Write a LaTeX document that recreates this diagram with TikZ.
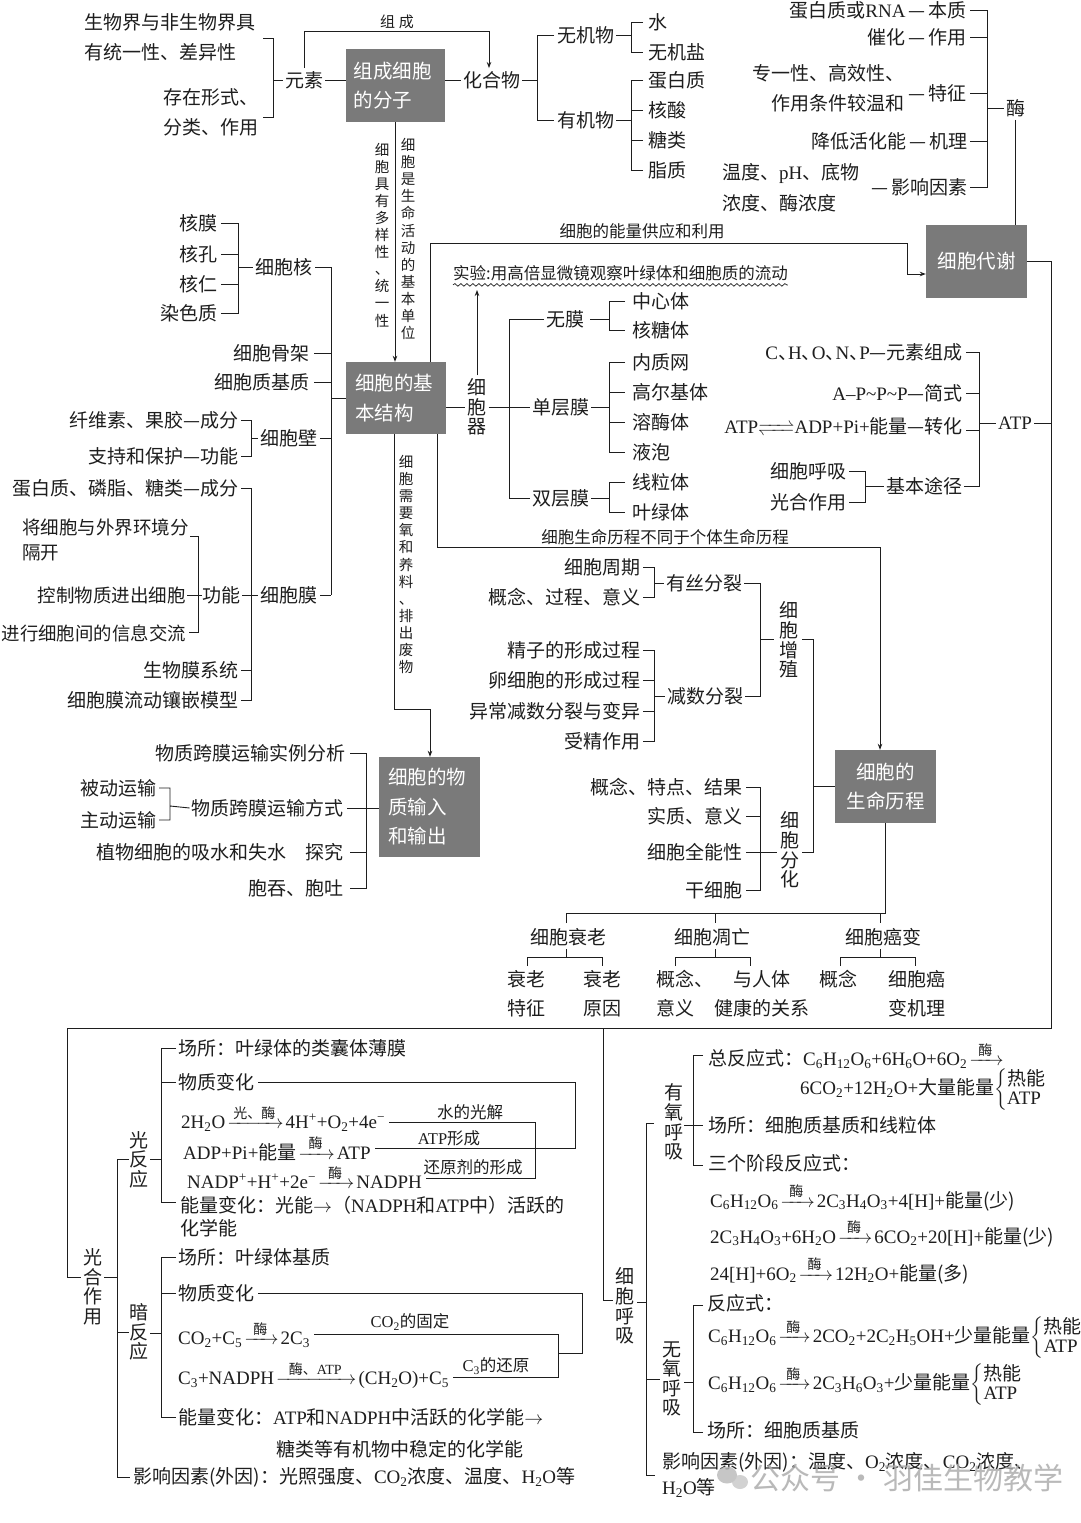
\RequirePackage{fix-cm}
\documentclass[tikz,border=0pt]{standalone}
\usepackage{fontspec}
\usepackage{mathtools}
\setmainfont{Noto Sans CJK SC}
\newfontfamily\tmr{Liberation Serif}
\usetikzlibrary{arrows.meta,decorations.pathmorphing}
\newcommand\F[1]{{\tmr #1}}
\newcommand\dn[1]{\textsubscript{#1}}
\newcommand\upx[1]{\textsuperscript{#1}}
\newcommand\rx[2]{\kern2pt$\xrightarrow{\makebox[#1pt]{\fontsize{14}{14}\selectfont #2}}$\kern2pt}
\newcommand\brc[1]{{\renewcommand\arraystretch{0.85}$\left\{\begin{tabular}{@{}l@{}}#1\end{tabular}\right.$}}
\newcommand\dnh{\makebox[10pt][l]{、}}
\definecolor{txt}{RGB}{30,30,30}
\definecolor{boxg}{RGB}{122,122,122}
\tikzset{
 every node/.style={inner sep=0pt, text=txt, font=\fontsize{19}{22}\selectfont},
 tl/.style={anchor=west},
 tr/.style={anchor=east},
 sm/.style={font=\fontsize{15}{17}\selectfont},
 lab/.style={font=\fontsize{16.5}{18}\selectfont},
 vt/.style={align=center, font=\fontsize{19}{19.6}\selectfont},
 vs/.style={align=center, font=\fontsize{14.5}{17.1}\selectfont},
 two/.style={font=\fontsize{19}{29}\selectfont},
 box/.style={fill=boxg, text=white, font=\fontsize{19.5}{29.5}\selectfont},
 ln/.style={line width=0.9pt, draw=txt},
 arr/.style={ln, -{Stealth[length=6pt,width=4.5pt]}},
}
\begin{document}
\begin{tikzpicture}[x=1pt,y=-1pt]
\useasboundingbox (0,0) rectangle (1080,1523);
\fill[white] (0,0) rectangle (1080,1523);

% ---------- boxes
\node[box, minimum width=99pt, minimum height=73pt, text width=84pt, align=left] (b1) at (395.5,85.5) {组成细胞\\的分子};
\node[box, minimum width=100pt, minimum height=72pt, text width=82pt, align=left] (b2) at (396,398) {细胞的基\\本结构};
\node[box, minimum width=101pt, minimum height=73pt] (b3) at (976.5,261.5) {细胞代谢};
\node[box, minimum width=101pt, minimum height=100pt, text width=83pt, align=left] (b4) at (429.5,807) {细胞的物\\质输入\\和输出};
\node[box, minimum width=101pt, minimum height=73pt, align=center] (b5) at (885.5,786.5) {细胞的\\生命历程};

% ---------- top left: elements
\node[tl] (n1) at (84,22) {生物界与非生物界具};
\node[tl] (n2) at (84,52) {有统一性、差异性};
\node[tl] (n3) at (163,97) {存在形式、};
\node[tl] (n4) at (163,127) {分类、作用};
\draw[ln] (263,38) -- (273,38) -- (273,117) -- (263,117);
\node[tl] (ys) at (285,80) {元素};
\draw[ln] (273,80) -- ([xshift=-2pt]ys.west);
\draw[ln] ([xshift=2pt]ys.east) -- (ys.east -| b1.west);
\node[tl] (hh) at (463,80) {化合物};
\draw[ln] (b1.east |- hh.west) -- ([xshift=-2pt]hh.west);
\coordinate (zc) at (489,31);
\draw[arr, shorten >=3pt] ([yshift=3pt]ys.north) |- (zc) -- (zc |- hh.north);
\node[sm] (zcl) at (397,22) {组\hspace{4pt}成};

% compounds
\draw[ln] ([xshift=2pt]hh.east) -- (537,80);
\draw[ln] (554,35) -- (537,35) -- (537,120) -- (554,120);
\node[tl] (wj) at (557,35) {无机物};
\node[tl] (yj) at (557,120) {有机物};
\draw[ln] ([xshift=2pt]wj.east) -- (631,35);
\draw[ln] (643,22) -- (631,22) -- (631,52) -- (643,52);
\node[tl] (s1) at (648,22) {水};
\node[tl] (s2) at (648,52) {无机盐};
\draw[ln] ([xshift=2pt]yj.east) -- (631,120);
\draw[ln] (643,80) -- (631,80) -- (631,170) -- (643,170) (631,110) -- (643,110) (631,140) -- (643,140);
\node[tl] (o1) at (648,80) {蛋白质};
\node[tl] (o2) at (648,110) {核酸};
\node[tl] (o3) at (648,140) {糖类};
\node[tl] (o4) at (648,170) {脂质};

% enzyme
\node[tr] (m1) at (967,10) {蛋白质或\F{RNA}\,—\,本质};
\node[tr] (m2) at (967,37) {催化\,—\,作用};
\node[tl] (m3a) at (752,73) {专一性、高效性、};
\node[tr] (m3b) at (905,103) {作用条件较温和};
\node[tr] (m3c) at (967,93) {—\,特征};
\node[tr] (m4) at (968,141) {降低活化能\,—\,机理};
\node[tl] (m5a) at (722,173) {温度、\F{pH}、底物};
\node[tl] (m5b) at (722,203) {浓度、酶浓度};
\node[tr] (m5c) at (968,187) {—\,影响因素};
\draw[ln] (970,10) -- (987,10) -- (987,187) -- (970,187) (970,37) -- (987,37) (970,93) -- (987,93) (970,141) -- (987,141);
\node[tl] (mei) at (1006,108) {酶};
\draw[ln] (987,108) -- ([xshift=-2pt]mei.west);
\draw[ln] ([yshift=-3pt]mei.south) -- (mei.south |- b3.north);

% metabolism long line
\draw[ln] (b3.east) -| (1051,1028) -- (67,1028) -- (67,1277) -- (81,1277);
\draw[ln] (603,1028) -- (603,1300) -- (613,1300);

% b1 -> b2
\coordinate (g1) at (395,0);
\draw[arr] (g1 |- b1.south) -- (g1 |- b2.north);
\node[vs] (v1) at (382,235) {细\\胞\\具\\有\\多\\样\\性\\、\\统\\一\\性};
\node[vs] (v2) at (408,239) {细\\胞\\是\\生\\命\\活\\动\\的\\基\\本\\单\\位};

% b2 -> b3
\coordinate (e1) at (430,243);
\coordinate (e2) at (907,243);
\coordinate (e3) at (907,274);
\draw[arr] (e1 |- b2.north) -- (e1) -- (e2) -- (e3) -- (e3 -| b3.west);
\node[lab] (el) at (642,231) {细胞的能量供应和利用};

% b2 -> b4
\coordinate (f1) at (394,709);
\coordinate (f2) at (430,709);
\draw[arr] (f1 |- b2.south) -- (f1) -- (f2) -- (f2 |- b4.north);
\node[vs] (v3) at (406,564.5) {细\\胞\\需\\要\\氧\\和\\养\\料\\、\\排\\出\\废\\物};

% b2 -> b5
\coordinate (h1) at (437,547);
\coordinate (h2) at (880,547);
\draw[arr] (h1 |- b2.south) -- (h1) -- (h2) -- (h2 |- b5.north);
\node[lab] (hl) at (665,537) {细胞生命历程不同于个体生命历程};

% ---------- left of b2
\node[tr] (hm) at (218,223) {核膜};
\node[tr] (hk) at (218,254) {核孔};
\node[tr] (hr) at (218,284) {核仁};
\node[tr] (rs) at (218,313) {染色质};
\draw[ln] (221,223) -- (238,223) -- (238,313) -- (221,313) (221,254) -- (238,254) (221,284) -- (238,284) (238,267) -- (253,267);
\node[tl] (xbh) at (255,267) {细胞核};
\draw[ln] ([xshift=3pt]xbh.east) -- (331,267) -- (331,595);
\node[tr] (gj) at (310,353) {细胞骨架};
\node[tr] (jz) at (310,382) {细胞质基质};
\draw[ln] (314,353) -- (331,353) (314,382) -- (331,382);
\node[tl] (xbb) at (260,438) {细胞壁};
\node[tl] (xbm) at (260,595) {细胞膜};
\draw[ln] ([xshift=3pt]xbb.east) -- (331,438) ([xshift=3pt]xbm.east) -- (331,595);
\draw[ln] (331,398) -- (b2.west);
\node[tr] (c1) at (239,420) {纤维素、果胶—成分};
\node[tr] (c2) at (239,456) {支持和保护—功能};
\draw[ln] (241,420) -- (251,420) -- (251,456) -- (241,456) (251,438) -- ([xshift=-2pt]xbb.west);
\node[tr] (c3) at (239,488) {蛋白质、磷脂、糖类—成分};
\node[tr] (gn) at (241,595) {功能};
\node[tr] (c5) at (239,670) {生物膜系统};
\node[tr] (c6) at (239,700) {细胞膜流动镶嵌模型};
\draw[ln] (241,488) -- (251,488) -- (251,700) -- (241,700) (241,670) -- (251,670);
\draw[ln] ([xshift=1pt]gn.east) -- ([xshift=-2pt]xbm.west);
\node[tl, align=left, font=\fontsize{18.5}{25}\selectfont] (d1) at (22,539.5) {将细胞与外界环境分\\隔开};
\node[tr, font=\fontsize{18.5}{22}\selectfont] (d2) at (186,595) {控制物质进出细胞};
\node[tr, font=\fontsize{18.4}{22}\selectfont] (d3) at (186,633) {进行细胞间的信息交流};
\draw[ln] (190,536) -- (198,536) -- (198,632) -- (189,632);
\draw[ln] ([xshift=1pt]d2.east) -- ([xshift=-1pt]gn.west);

% organelles
\node[vt] (xbq) at (477,407) {细\\胞\\器};
\draw[ln] (b2.east |- xbq.west) -- ([xshift=-2pt]xbq.west);
\node[lab, anchor=west] (sy) at (453,273) {实验:用高倍显微镜观察叶绿体和细胞质的流动};
\draw[decorate, decoration={snake, amplitude=1.3pt, segment length=6pt}, line width=0.7pt, draw=txt] ([yshift=-4pt]sy.south west) -- ([yshift=-4pt]sy.south east);
\draw[arr] ([yshift=3pt]xbq.north) -- (xbq.north |- 0,290);
\node[tl] (wm) at (546,319) {无膜};
\node[tl] (dcm) at (532,407) {单层膜};
\node[tl] (scm) at (532,498) {双层膜};
\draw[ln] ([xshift=2pt]xbq.east) -- ([xshift=-2pt]dcm.west);
\draw[ln] ([xshift=-2pt]wm.west) -| (509,498) -- ([xshift=-2pt]scm.west);
\draw[ln] (590,319) -- (609,319) (625,301) -- (609,301) -- (609,330) -- (625,330);
\node[tl] (o5) at (632,301) {中心体};
\node[tl] (o6) at (632,330) {核糖体};
\draw[ln] ([xshift=2pt]dcm.east) -- (609,407) (625,362) -- (609,362) -- (609,452) -- (625,452) (609,392) -- (625,392) (609,422) -- (625,422);
\node[tl] (o7) at (632,362) {内质网};
\node[tl] (o8) at (632,392) {高尔基体};
\node[tl] (o9) at (632,422) {溶酶体};
\node[tl] (o10) at (632,452) {液泡};
\draw[ln] ([xshift=2pt]scm.east) -- (609,498) (625,482) -- (609,482) -- (609,512) -- (625,512);
\node[tl] (o11) at (632,482) {线粒体};
\node[tl] (o12) at (632,512) {叶绿体};

% ATP
\node[tr] (a1) at (963,352) {\F{C}\dnh\F{H}\dnh\F{O}\dnh\F{N}\dnh\F{P}—元素组成};
\node[tr] (a2) at (963,393) {\F{A–P\textasciitilde P\textasciitilde P}—简式};
\node[tr] (a3) at (963,430) {\F{ATP}$\xrightleftharpoons{\hspace{26pt}}$\F{ADP+Pi+}能量—转化};
\node[tl] (a4a) at (770,471) {细胞呼吸};
\node[tl] (a4b) at (770,502) {光合作用};
\node[tl] (a4) at (886,486) {基本途径};
\draw[ln] (849,471) -- (865,471) -- (865,502) -- (849,502) (865,486) -- ([xshift=-2pt]a4.west);
\node[tl] (atp) at (998,423) {\F{ATP}};
\draw[ln] (966,352) -- (979,352) -- (979,486) -- ([xshift=2pt]a4.east) (966,393) -- (979,393) (966,430) -- (979,430) (979,423) -- ([xshift=-2pt]atp.west);
\draw[ln] ([xshift=2pt]atp.east) -- (1051,423);

% ---------- life history
\node[tr] (q1) at (641,567) {细胞周期};
\node[tr] (q2) at (641,597) {概念、过程、意义};
\node[tl] (ys2) at (666,583) {有丝分裂};
\draw[ln] (643,567) -- (654,567) -- (654,597) -- (643,597) (654,583) -- ([xshift=-2pt]ys2.west);
\node[tr] (q3) at (641,650) {精子的形成过程};
\node[tr] (q4) at (641,680) {卵细胞的形成过程};
\node[tr] (q5) at (641,711) {异常减数分裂与变异};
\node[tr] (q6) at (641,741) {受精作用};
\node[tl] (js) at (667,696) {减数分裂};
\draw[ln] (643,650) -- (654,650) -- (654,741) -- (643,741) (643,680) -- (654,680) (643,711) -- (654,711) (654,696) -- ([xshift=-2pt]js.west);
\draw[ln] ([xshift=2pt]ys2.east) -- (760,583) -- (760,696) -- ([xshift=2pt]js.east) (760,639) -- (774,639);
\node[vt] (zz) at (789,640) {细\\胞\\增\\殖};
\node[vt] (fh) at (790,850) {细\\胞\\分\\化};
\draw[ln] (802,639) -- (813,639) -- (813,852) -- (802,852) (813,786.5) -- (b5.west);
\node[tr] (k1) at (743,787) {概念、特点、结果};
\node[tr] (k2) at (743,816) {实质、意义};
\node[tr] (k3) at (743,852) {细胞全能性};
\node[tr] (k4) at (743,890) {干细胞};
\draw[ln] (746,787) -- (760,787) -- (760,890) -- (746,890) (746,816) -- (760,816) (746,852) -- (777,852);

\draw[ln] (b5.south) -- (b5.south |- 0,913);
\draw[ln] (566,923) -- (566,913) -- (885.5,913) (715,913) -- (715,923) (880,913) -- (880,923);
\node (sl) at (568,937) {细胞衰老};
\node (dw) at (712,937) {细胞凋亡};
\node (ab) at (883,937) {细胞癌变};
\draw[ln] (566,949) -- (566,957) (527,966) -- (527,957) -- (602,957) -- (602,966);
\node[two, align=center] (sl1) at (526,993.5) {衰老\\特征};
\node[two, align=center] (sl2) at (602,993.5) {衰老\\原因};
\draw[ln] (715,949) -- (715,957) (675,966) -- (675,957) -- (750,957) -- (750,966);
\node[two, align=left, anchor=west] (dw1) at (656,993.5) {概念、\\意义};
\node[two, align=center] (dw2) at (762,993.5) {与人体\\健康的关系};
\draw[ln] (880,949) -- (880,957) (840,966) -- (840,957) -- (915,957) -- (915,966);
\node (ab1) at (838,979) {概念};
\node[two, align=center] (ab2) at (917,993.5) {细胞癌\\变机理};

% ---------- transport
\node[tr] (w1) at (346,753) {物质跨膜运输实例分析};
\node[tr] (w2) at (344,808) {物质跨膜运输方式};
\node[tr] (w3) at (344,852) {植物细胞的吸水和失水\hspace{1em}探究};
\node[tr] (w4) at (344,888) {胞吞、胞吐};
\draw[ln] (350,753) -- (366,753) -- (366,888) -- (350,888) (350,852) -- (366,852) ([xshift=3pt]w2.east) -- (b4.west |- w2.east);
\node[tr] (p5) at (157,788) {被动运输};
\node[tr] (p6) at (157,820) {主动运输};
\draw[ln] (159,788) -- (170,788) -- (170,820) -- (159,820) (170,806) -- ([xshift=-2pt]w2.west);

% ---------- photosynthesis
\node[vt] (gh) at (93,1287) {光\\合\\作\\用};
\draw[ln] (104,1277) -- (117,1277);
\node[vt] (gf) at (139,1159.5) {光\\反\\应};
\node[vt] (af) at (139,1332) {暗\\反\\应};
\draw[ln] (129,1159) -- (117,1159) -- (117,1477) -- (130,1477) (117,1332) -- (129,1332);
\draw[ln] (150,1159) -- (161,1159) (176,1048) -- (161,1048) -- (161,1202) -- (176,1202) (161,1082) -- (176,1082);
\node[tl] (g1) at (178,1048) {场所：叶绿体的类囊体薄膜};
\node[tl] (g2) at (178,1082) {物质变化};
\node[tl] (p1) at (181,1118) {\F{2H\dn2O}\rx{46}{光、酶}\F{4H\upx{+}+O\dn2+4e\upx{−}}};
\node[tl] (p2) at (183,1148) {\F{ADP+Pi+}能量\rx{26}{酶}\F{ATP}};
\node[tl] (p3) at (187,1177) {\F{NADP\upx{+}+H\upx{+}+2e\upx{−}}\rx{26}{酶}\F{NADPH}};
\node[tl] (g3) at (180,1205) {能量变化：光能$\rightarrow$（\F{NADPH}和\F{ATP}中）活跃的};
\node[tl] (g4) at (180,1228) {化学能};
\draw[ln, shorten <=4pt, shorten >=4pt] (g2.east) -- (575,1082) -- (575,1148) -- (p2.east |- 0,1148);
\draw[ln, shorten <=4pt, shorten >=4pt] (p1.east |- 0,1122) -- (535,1122) -- (535,1178) -- (p3.east |- 0,1178);
\node[lab] (l1) at (470,1112) {水的光解};
\node[lab] (l2) at (449,1138) {\F{ATP}形成};
\node[lab] (l3) at (473,1167) {还原剂的形成};

\draw[ln] (150,1333) -- (161,1333) (176,1257) -- (161,1257) -- (161,1417) -- (176,1417) (161,1293) -- (176,1293);
\node[tl] (i1) at (178,1257) {场所：叶绿体基质};
\node[tl] (i2) at (178,1293) {物质变化};
\node[tl] (i3) at (178,1334) {\F{CO\dn2+C\dn5}\rx{24}{酶}\F{2C\dn3}};
\node[tl] (i4) at (178,1375) {\F{C\dn3+NADPH}\rx{70}{酶、\F{ATP}}\F{(CH\dn2O)+C\dn5}};
\node[tl] (i5) at (178,1417) {能量变化：\F{ATP}和\F{NADPH}中活跃的化学能$\rightarrow$};
\node[tl] (i6) at (276,1449) {糖类等有机物中稳定的化学能};
\node[tl] (i7) at (133,1477) {影响因素(外因)：光照强度、\F{CO\dn2}浓度、温度、\F{H\dn2O}等};
\draw[ln, shorten <=4pt] (i2.east) -- (582,1293) -- (582,1353) -- (558,1353);
\draw[ln, shorten <=4pt, shorten >=4pt] (i3.east |- 0,1334) -- (558,1334) -- (558,1377) -- (i4.east |- 0,1377);
\node[lab] (l4) at (410,1322) {\F{CO\dn2}的固定};
\node[lab] (l5) at (496,1366) {\F{C\dn3}的还原};

% ---------- respiration
\node[vt] (hx) at (625,1306) {细\\胞\\呼\\吸};
\draw[ln] (637,1302) -- (646,1302) (654,1123) -- (646,1123) -- (646,1475) -- (655,1475) (646,1379) -- (660,1379);
\node[vt] (yy) at (674,1122) {有\\氧\\呼\\吸};
\node[vt] (wy) at (672,1379) {无\\氧\\呼\\吸};
\draw[ln] (684,1125) -- (693,1125) (703,1055) -- (693,1055) -- (693,1165) -- (703,1165) (693,1125) -- (703,1125);
\node[tl] (r1) at (708,1055) {总反应式：\F{C\dn6H\dn{12}O\dn6+6H\dn6O+6O\dn2}\rx{24}{酶}};
\node[tl] (r2) at (800,1090) {\F{6CO\dn2+12H\dn2O+}大量能量\brc{热能\\\F{ATP}}};
\node[tl] (r3) at (708,1125) {场所：细胞质基质和线粒体};
\node[tl] (r4) at (708,1163) {三个阶段反应式：};
\node[tl] (r5) at (710,1197) {\F{C\dn6H\dn{12}O\dn6}\rx{24}{酶}\F{2C\dn3H\dn4O\dn3+4[H]+}能量(少)};
\node[tl] (r6) at (710,1233) {\F{2C\dn3H\dn4O\dn3+6H\dn2O}\rx{24}{酶}\F{6CO\dn2+20[H]+}能量(少)};
\node[tl] (r7) at (710,1270) {\F{24[H]+6O\dn2}\rx{24}{酶}\F{12H\dn2O+}能量(多)};
\draw[ln] (684,1382) -- (693,1382) (703,1305) -- (693,1305) -- (693,1432) -- (703,1432);
\node[tl] (r8) at (707,1303) {反应式：};
\node[tl] (r9) at (708,1338) {\F{C\dn6H\dn{12}O\dn6}\rx{22}{酶}\F{2CO\dn2+2C\dn2H\dn5OH+}少量能量\brc{热能\\\F{ATP}}};
\node[tl] (r10) at (708,1385) {\F{C\dn6H\dn{12}O\dn6}\rx{22}{酶}\F{2C\dn3H\dn6O\dn3+}少量能量\brc{热能\\\F{ATP}}};
\node[tl] (r11) at (707,1430) {场所：细胞质基质};
\node[tl] (r12) at (662,1462) {影响因素(外因)：温度、\F{O\dn2}浓度、\F{CO\dn2}浓度、};
\node[tl] (r13) at (662,1488) {\F{H\dn2O}等};

% watermark
\fill[black!28, opacity=0.8] (727,1475) ellipse (10pt and 8.5pt);
\fill[black!22, opacity=0.8] (740,1482) ellipse (8pt and 7pt);
\node[tl, font=\fontsize{30}{30}\selectfont, text=black!32, opacity=0.85] (wmk) at (750,1478) {公众号 · 羽佳生物教学};
\end{tikzpicture}
\end{document}
